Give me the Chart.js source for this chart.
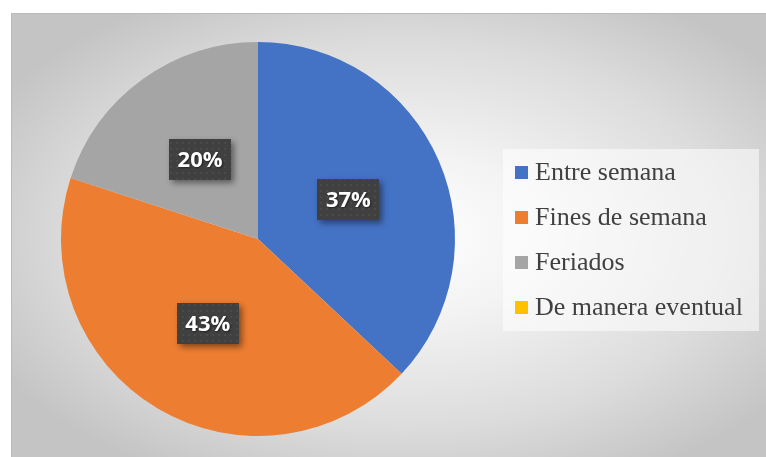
<!DOCTYPE html>
<html>
<head>
<meta charset="utf-8">
<script src="https://cdn.jsdelivr.net/npm/chart.js@4"></script>
<style>
    body { margin: 0; background: #fff; }
    #frame {
        position: absolute; left: 11px; top: 13px; width: 755px; height: 444px;
        border-top: 1px solid #bababa; border-left: 1px solid #bababa;
        box-sizing: border-box;
        background: radial-gradient(ellipse 62% 62% at 52% 50%, #ffffff 0%, #f3f3f3 30%, #dcdcdc 70%, #c4c4c4 100%);
    }
    canvas { display: block; }
</style>
</head>
<body>
<div id="frame"><canvas id="pieChart" width="754" height="443"></canvas></div>
<script>
const labels = ['Entre semana', 'Fines de semana', 'Feriados', 'De manera eventual'];
const values = [37, 43, 20, 0];
const colors = ['#4472C4', '#ED7D31', '#A5A5A5', '#FFC000'];

const $ = id => document.getElementById(id);

// 标签底纹
const makePattern = ctx => {
    const c = document.createElement('canvas');
    c.width = 6; c.height = 6;
    const p = c.getContext('2d');
    p.fillStyle = '#404040';
    p.fillRect(0, 0, 6, 6);
    p.fillStyle = '#4a4a4a';
    p.fillRect(2, 2, 2, 2);
    return ctx.createPattern(c, 'repeat');
}

// 百分比标签
const valueLabels = {
    id: 'valueLabels',
    afterDatasetsDraw(chart) {
        const ctx = chart.ctx;
        const meta = chart.getDatasetMeta(0);
        const pattern = makePattern(ctx);
        meta.data.forEach((arc, i) => {
            if (!values[i]) return;
            const {x, y} = arc.tooltipPosition();
            const w = 62, h = 41;
            ctx.save();
            ctx.shadowColor = 'rgba(0,0,0,0.45)';
            ctx.shadowBlur = 6;
            ctx.shadowOffsetX = 3;
            ctx.shadowOffsetY = 3;
            ctx.fillStyle = pattern;
            ctx.fillRect(Math.round(x - w / 2), Math.round(y - h / 2), w, h);
            ctx.shadowColor = 'rgba(0,0,0,0.5)';
            ctx.shadowBlur = 2;
            ctx.shadowOffsetX = 1;
            ctx.shadowOffsetY = 1;
            ctx.fillStyle = '#ffffff';
            ctx.font = 'bold 22px "Open Sans", "Liberation Sans", sans-serif';
            ctx.textAlign = 'center';
            ctx.textBaseline = 'middle';
            ctx.fillText(values[i] + '%', x, y + 1);
            ctx.restore();
        });
    }
}

// 右侧图例
const sideLegend = {
    id: 'sideLegend',
    afterDraw(chart) {
        const ctx = chart.ctx;
        ctx.save();
        ctx.fillStyle = 'rgba(255,255,255,0.55)';
        ctx.fillRect(491, 135, 256, 182);
        ctx.font = '26px "Liberation Serif", "Times New Roman", serif';
        ctx.textBaseline = 'alphabetic';
        ctx.textAlign = 'left';
        labels.forEach((label, i) => {
            const base = 166 + i * 45;
            ctx.fillStyle = colors[i];
            ctx.fillRect(503, base - 14, 13, 13);
            ctx.fillStyle = '#404040';
            ctx.fillText(label, 523, base);
        });
        ctx.restore();
    }
}

window.onload = () => {
    const ctx = $('pieChart').getContext('2d');
    new Chart(ctx, {
        type: 'pie',
        data: {
            labels: labels,
            datasets: [{
                data: values,
                backgroundColor: colors,
                borderWidth: 0
            }]
        },
        options: {
            responsive: false,
            animation: false,
            layout: {
                padding: {left: 49, top: 28, right: 311, bottom: 21}
            },
            plugins: {
                legend: {display: false},
                tooltip: {enabled: false}
            }
        },
        plugins: [valueLabels, sideLegend]
    });
}
</script>
</body>
</html>
